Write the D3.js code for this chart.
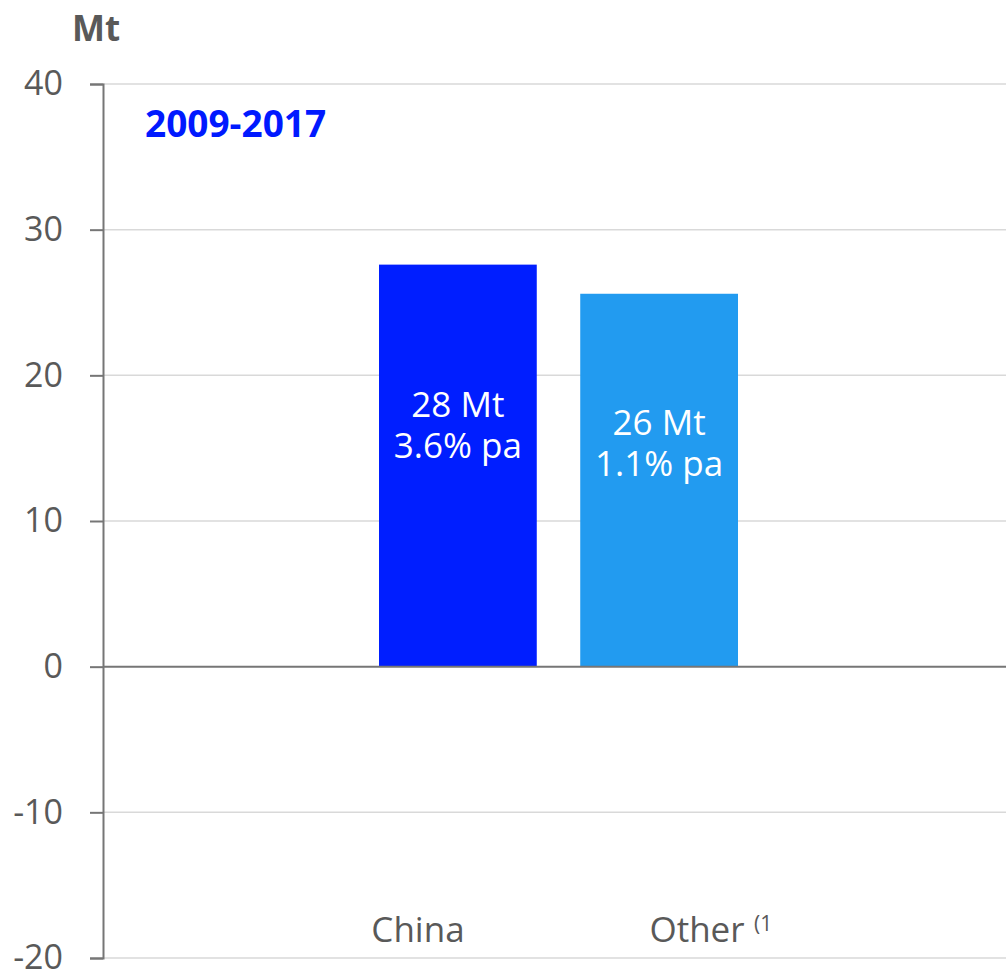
<!DOCTYPE html>
<html>
<head>
<meta charset="utf-8">
<script src="https://cdn.jsdelivr.net/npm/d3@7"></script>
<style>
	body { margin: 0; background: #fff; }
	text { font-family: "Open Sans", "Noto Sans", sans-serif; }
</style>
</head>
<body>
<div id="chart"></div>
<script>
// data
var categories = ["China", "Other"];
var values = [27.6, 25.6];
var valueLabels = ["28 Mt", "26 Mt"];
var growthLabels = ["3.6% pa", "1.1% pa"];
var barColors = ["#001eff", "#229bf0"];
var yTicks = [-20, -10, 0, 10, 20, 30, 40];

var width = 1006, height = 971;
var axisX = 103;

var svg = d3.select("#chart")
	.append("svg")
		.attr("width", width)
		.attr("height", height);

var yScale = d3.scaleLinear()
	.domain([-20, 40])
	.range([958, 84]);

var xScale = d3.scaleBand()
	.domain(categories)
	.range([379, 738])
	.paddingInner(0.216)
	.paddingOuter(0);

// category labels sit wider apart than the bars
var labelScale = d3.scalePoint()
	.domain(categories)
	.range([418, 697]);

// gridlines
svg.append("g")
	.selectAll("line")
	.data(yTicks.filter(function(t){ return t !== 0; }))
	.enter()
	.append("line")
		.attr("x1", axisX)
		.attr("x2", width)
		.attr("y1", function(d){ return yScale(d); })
		.attr("y2", function(d){ return yScale(d); })
		.attr("stroke", "#d9d9d9")
		.attr("stroke-width", 1.5);

// y axis
var yAxis = svg.append("g")
	.attr("transform", "translate(" + axisX + ",0)")
	.call(d3.axisLeft(yScale).tickValues(yTicks).tickSize(13).tickPadding(27)
		.tickFormat(function(d){ return String(d); }));
yAxis.select(".domain").attr("stroke", "#767676").attr("stroke-width", 2);
yAxis.selectAll(".tick line").attr("stroke", "#767676").attr("stroke-width", 2);
yAxis.selectAll(".tick text")
	.attr("fill", "#595959")
	.attr("font-size", "34px")
	.style("font-family", "'Open Sans', sans-serif");

// bars
var data = categories.map(function(c, i){
	return {cat: c, value: values[i], label: valueLabels[i], growth: growthLabels[i], color: barColors[i]};
});

svg.append("g")
	.selectAll("rect")
	.data(data)
	.enter()
	.append("rect")
		.attr("x", function(d){ return xScale(d.cat); })
		.attr("y", function(d){ return yScale(d.value); })
		.attr("width", xScale.bandwidth())
		.attr("height", function(d){ return yScale(0) - yScale(d.value); })
		.attr("fill", function(d){ return d.color; });

// zero line
svg.append("line")
	.attr("x1", axisX)
	.attr("x2", width)
	.attr("y1", yScale(0))
	.attr("y2", yScale(0))
	.attr("stroke", "#767676")
	.attr("stroke-width", 2);

// in-bar labels
var inLabels = svg.append("g")
	.selectAll("text")
	.data(data)
	.enter()
	.append("text")
		.attr("text-anchor", "middle")
		.attr("fill", "#fff")
		.attr("font-size", "35px");
inLabels.append("tspan")
	.attr("x", function(d){ return xScale(d.cat) + xScale.bandwidth() / 2; })
	.attr("y", function(d){ return yScale(d.value * 0.62); })
	.text(function(d){ return d.label; });
inLabels.append("tspan")
	.attr("x", function(d){ return xScale(d.cat) + xScale.bandwidth() / 2; })
	.attr("dy", 41)
	.text(function(d){ return d.growth; });

// category labels (word centred on the label position)
var catLabels = svg.append("g")
	.selectAll("text")
	.data(data)
	.enter()
	.append("text")
		.attr("x", function(d){ return labelScale(d.cat); })
		.attr("y", 942)
		.attr("text-anchor", "middle")
		.attr("fill", "#595959")
		.attr("font-size", "35px")
		.text(function(d){ return d.cat; });

svg.append("text")
	.attr("x", labelScale("Other") + 57)
	.attr("y", 931)
	.attr("fill", "#595959")
	.attr("font-size", "21px")
	.text("(1");

// unit
svg.append("text")
	.attr("x", 72)
	.attr("y", 41)
	.attr("fill", "#595959")
	.attr("font-size", "35px")
	.attr("font-weight", "bold")
	.text("Mt");

// period title
svg.append("text")
	.attr("x", 145)
	.attr("y", 137)
	.attr("fill", "#0019ff")
	.attr("font-size", "37px")
	.attr("font-weight", "bold")
	.text("2009-2017");
</script>
</body>
</html>
